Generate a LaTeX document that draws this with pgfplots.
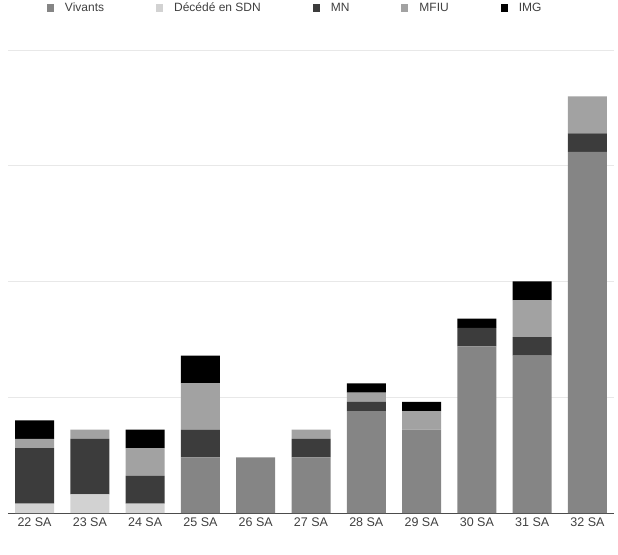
\documentclass[border=0pt]{standalone}
\usepackage{pgfplots}
\pgfplotsset{compat=1.18}
\usepackage{fontspec}
\setmainfont{Liberation Sans}
\definecolor{cviv}{HTML}{858585}
\definecolor{cdec}{HTML}{D2D2D2}
\definecolor{cmn}{HTML}{3C3C3C}
\definecolor{cmfiu}{HTML}{A2A2A2}
\definecolor{cimg}{HTML}{000000}
\definecolor{ctxt}{HTML}{404040}
\begin{document}
\begin{tikzpicture}
\begin{axis}[
  at={(0pt,0pt)}, anchor=south west,
  scale only axis, width=606pt, height=463pt,
  ybar stacked, bar width=39pt,
  xmin=-0.48, xmax=10.48, ymin=0, ymax=50,
  xtick=data,
  xticklabels={22 SA,23 SA,24 SA,25 SA,26 SA,27 SA,28 SA,29 SA,30 SA,31 SA,32 SA},
  ytick={12.5,25,37.5,50}, yticklabels={},
  ymajorgrids, grid style={draw=black!9, line width=0.8pt},
  major tick length=0pt,
  axis x line*=bottom, axis y line*=left,
  x axis line style={draw=black!70, line width=1pt},
  y axis line style={draw=none},
  xticklabel style={font=\fontsize{12.5}{14}\selectfont, text=ctxt, yshift=-1pt},
  legend columns=-1,
  legend style={at={(0.064,1.091)}, anchor=west, draw=none, fill=none, inner sep=0pt,
    font=\fontsize{12}{14}\selectfont, text=ctxt,
    /tikz/every even column/.append style={column sep=50pt}},
  legend image code/.code={\fill[#1] (0pt,-4.5pt) rectangle (7pt,4pt); \path[draw=none,fill=none] (16pt,0pt) circle (0pt);},
]
\addplot[fill=cviv, draw=none] coordinates {(0,0) (1,0) (2,0) (3,6) (4,6) (5,6) (6,11) (7,9) (8,18) (9,17) (10,39)};
\addplot[fill=cdec, draw=none] coordinates {(0,1) (1,2) (2,1) (3,0) (4,0) (5,0) (6,0) (7,0) (8,0) (9,0) (10,0)};
\addplot[fill=cmn, draw=none] coordinates {(0,6) (1,6) (2,3) (3,3) (4,0) (5,2) (6,1) (7,0) (8,2) (9,2) (10,2)};
\addplot[fill=cmfiu, draw=none] coordinates {(0,1) (1,1) (2,3) (3,5) (4,0) (5,1) (6,1) (7,2) (8,0) (9,4) (10,4)};
\addplot[fill=cimg, draw=none] coordinates {(0,2) (1,0) (2,2) (3,3) (4,0) (5,0) (6,1) (7,1) (8,1) (9,2) (10,0)};
\legend{Vivants,Décédé en SDN,MN,MFIU,IMG}
\end{axis}
\pgfresetboundingbox
\path[use as bounding box] (-8pt,-41pt) rectangle (610pt,513pt);
\end{tikzpicture}
\end{document}
